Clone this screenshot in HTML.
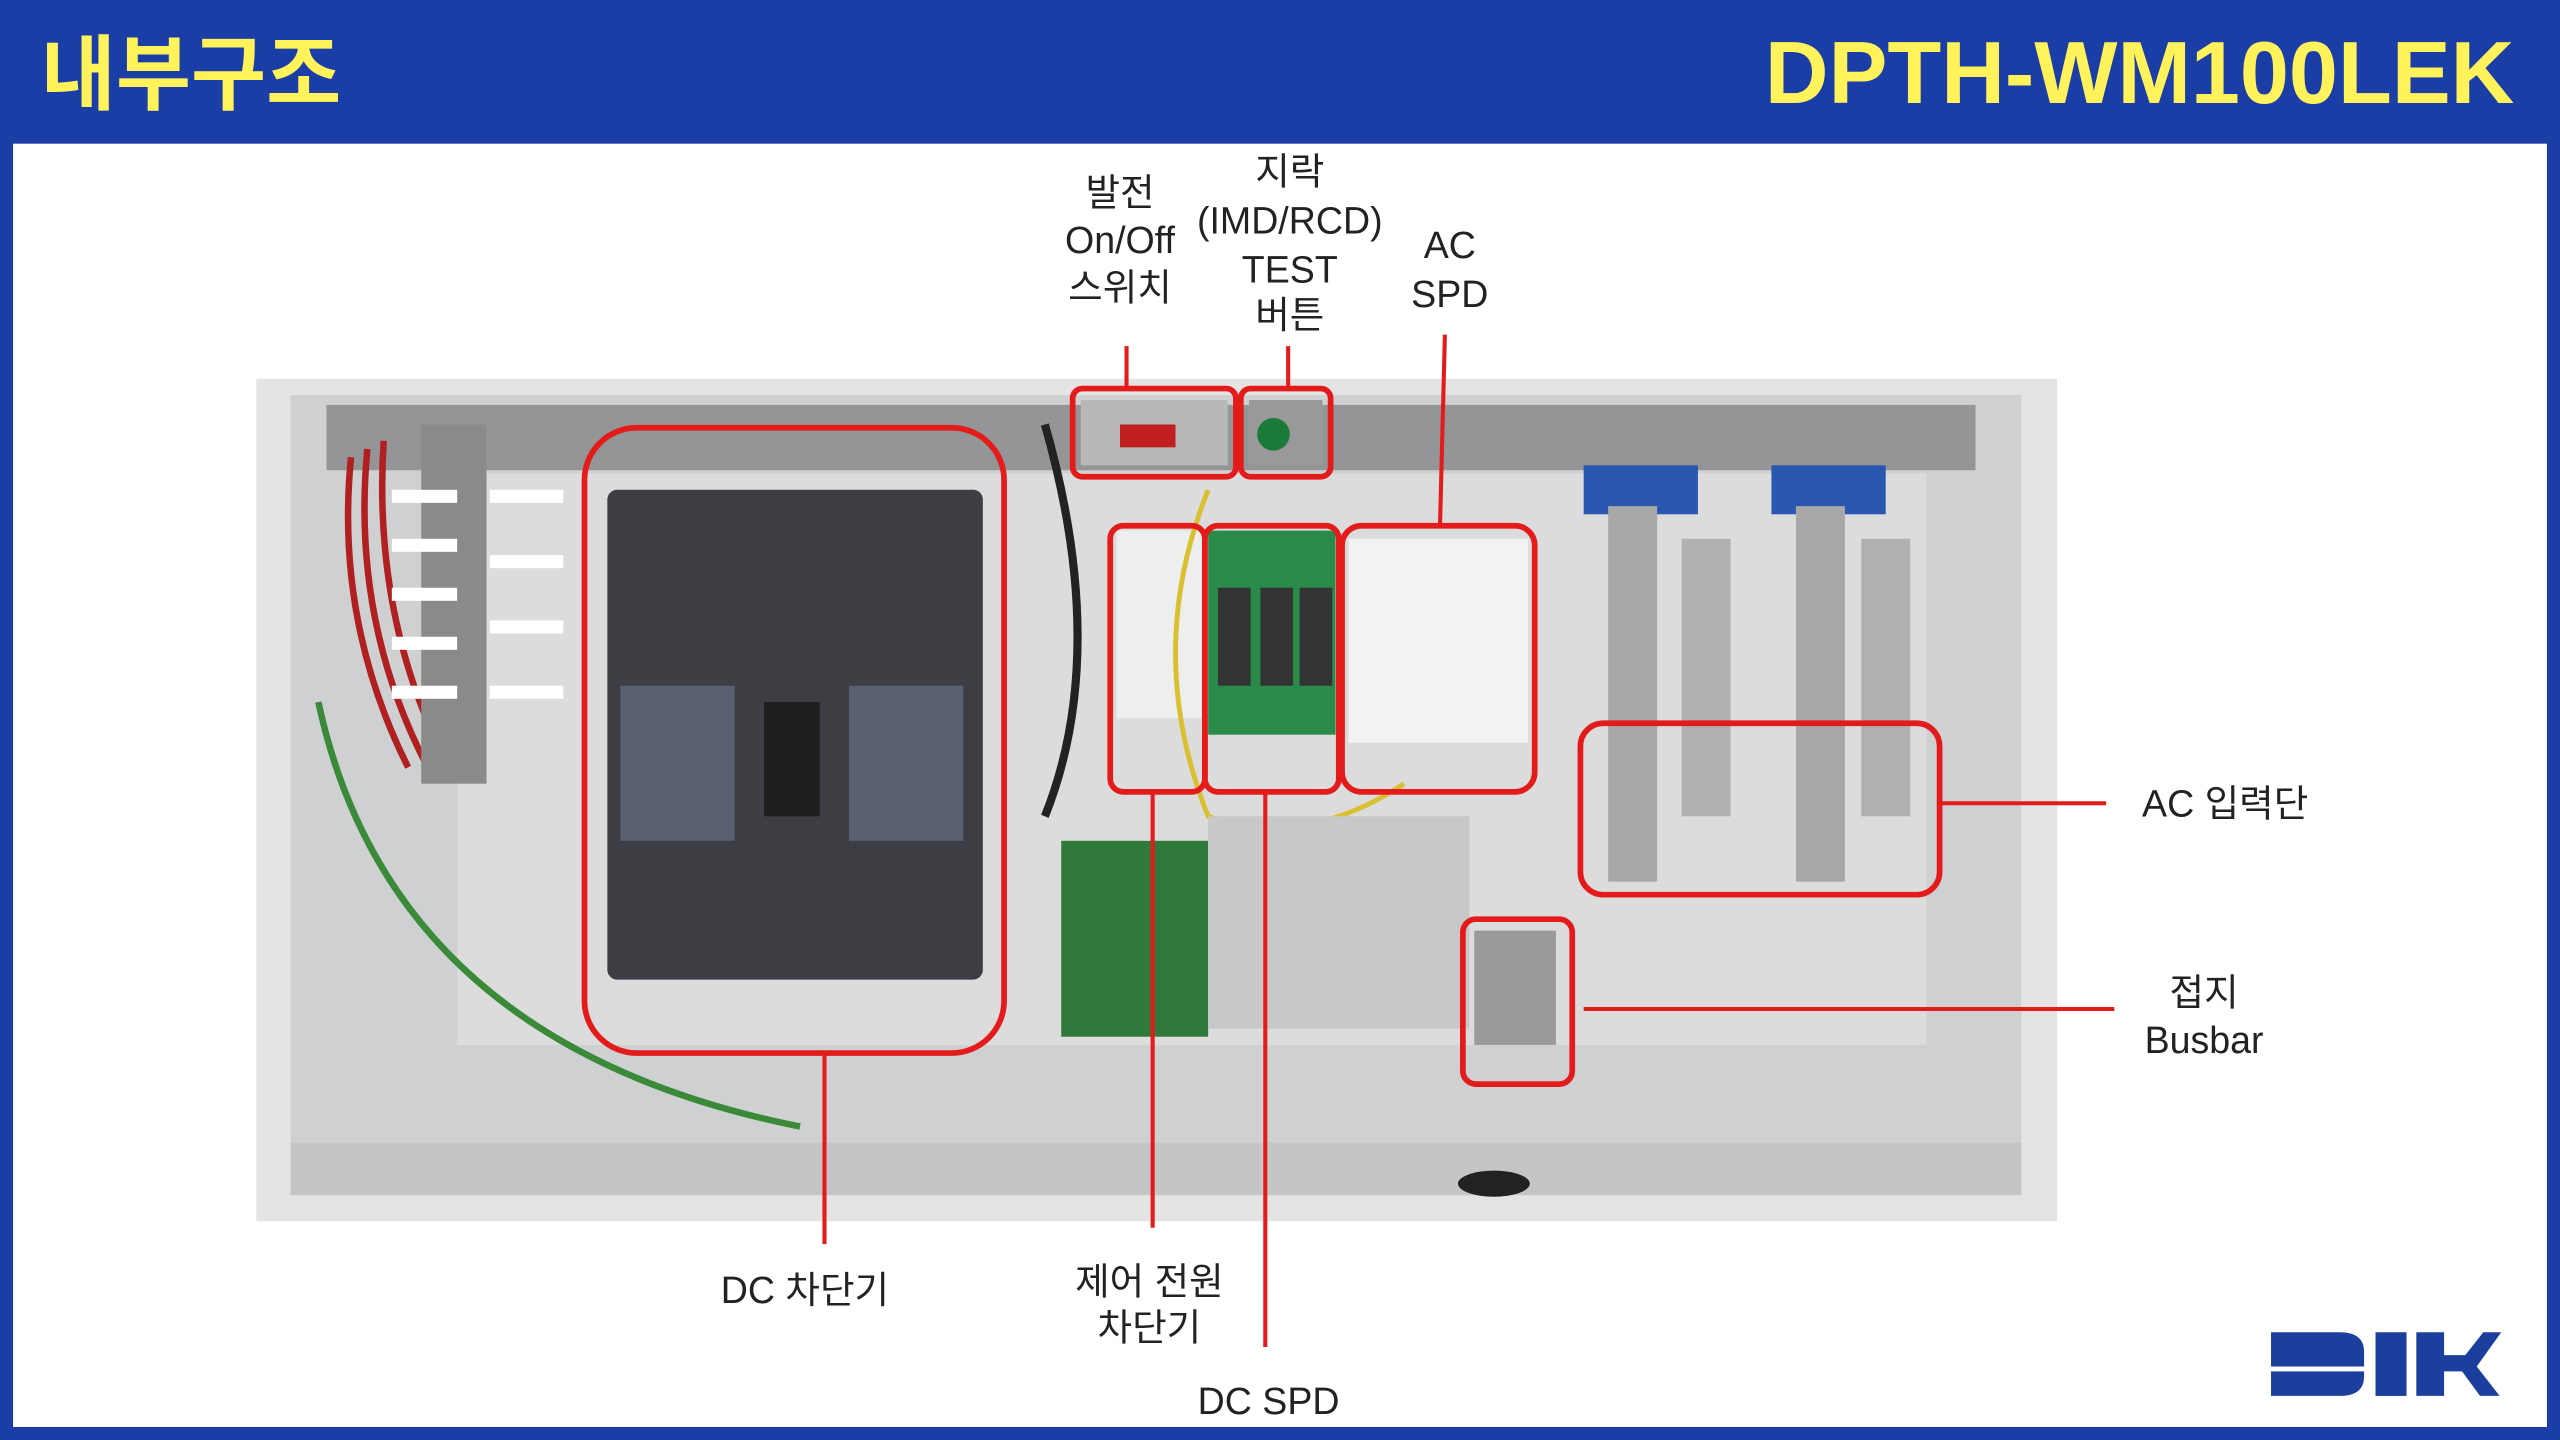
<!DOCTYPE html>
<html><head><meta charset="utf-8"><style>
html,body{margin:0;padding:0;width:2560px;height:1440px;overflow:hidden;background:#1a3ea6}
svg{display:block}
text{font-family:"Liberation Sans","Noto Sans CJK KR",sans-serif;fill:#222;font-size:23px;text-anchor:middle}
</style></head><body>
<svg width="2560" height="1440" viewBox="0 0 1568 882" preserveAspectRatio="none">
<rect x="0" y="0" width="1568" height="882" fill="#1a3ea6"/>
<rect x="8" y="88" width="1552" height="786" fill="#ffffff"/>
<text x="25" y="63" style="font-size:50px;font-weight:bold;fill:#fff25a;text-anchor:start;font-family:'Noto Sans CJK KR','Liberation Sans',sans-serif">내부구조</text>
<text x="1540" y="63" style="font-size:54px;font-weight:bold;fill:#fff25a;text-anchor:end;font-family:'Liberation Sans',sans-serif">DPTH-WM100LEK</text>

<!-- photo -->
<rect x="157" y="232" width="1103" height="516" fill="#e4e4e4"/>
<rect x="178" y="242" width="1060" height="490" fill="#cfd0d2"/>
<rect x="280" y="290" width="900" height="350" fill="#dcdcdc"/>
<rect x="178" y="700" width="1060" height="32" fill="#c4c5c7"/>
<rect x="200" y="248" width="1010" height="40" fill="#5a5a5a" opacity="0.5"/>
<!-- wires left -->
<g stroke="#b02020" stroke-width="4" fill="none">
<path d="M215 280 Q205 380 250 470"/><path d="M225 275 Q215 380 262 470"/><path d="M235 270 Q228 380 275 470"/>
</g>
<rect x="258" y="260" width="40" height="220" fill="#8a8a8a"/>
<g fill="#fff"><rect x="240" y="300" width="40" height="8"/><rect x="240" y="330" width="40" height="8"/><rect x="240" y="360" width="40" height="8"/><rect x="240" y="390" width="40" height="8"/><rect x="240" y="420" width="40" height="8"/><rect x="300" y="300" width="45" height="8"/><rect x="300" y="340" width="45" height="8"/><rect x="300" y="380" width="45" height="8"/><rect x="300" y="420" width="45" height="8"/></g>
<path d="M195 430 Q240 640 490 690" stroke="#3a8a3a" stroke-width="4" fill="none"/>
<!-- breaker -->
<rect x="372" y="300" width="230" height="300" rx="6" fill="#3c3e44"/>
<rect x="380" y="420" width="70" height="95" fill="#5a6070"/>
<rect x="520" y="420" width="70" height="95" fill="#5a6070"/>
<rect x="468" y="430" width="34" height="70" fill="#1e1e1e"/>
<!-- top switches -->
<rect x="662" y="245" width="90" height="40" fill="#b8b8b8"/>
<rect x="686" y="260" width="34" height="14" fill="#c02020"/>
<rect x="765" y="245" width="45" height="40" fill="#999"/>
<circle cx="780" cy="266" r="10" fill="#1a7a3a"/>
<!-- control breaker / SPDs -->
<rect x="684" y="325" width="52" height="115" fill="#eee"/>
<rect x="740" y="325" width="78" height="125" fill="#2a8a4a"/>
<rect x="746" y="360" width="20" height="60" fill="#333"/><rect x="772" y="360" width="20" height="60" fill="#333"/><rect x="796" y="360" width="20" height="60" fill="#333"/>
<rect x="826" y="330" width="110" height="125" fill="#f2f2f2"/>
<path d="M740 300 Q700 400 740 500 Q800 520 860 480" stroke="#d8c030" stroke-width="3" fill="none"/>
<path d="M640 260 Q680 400 640 500" stroke="#222" stroke-width="5" fill="none"/>
<!-- pcb -->
<rect x="650" y="515" width="90" height="120" fill="#2f7a3a"/>
<rect x="740" y="500" width="160" height="130" fill="#c8c8c8"/>
<!-- right bars -->
<rect x="970" y="285" width="70" height="30" fill="#2a58b0"/>
<rect x="1085" y="285" width="70" height="30" fill="#2a58b0"/>
<rect x="985" y="310" width="30" height="230" fill="#a8a8a8"/><rect x="1030" y="330" width="30" height="170" fill="#b0b0b0"/>
<rect x="1100" y="310" width="30" height="230" fill="#a8a8a8"/><rect x="1140" y="330" width="30" height="170" fill="#b0b0b0"/>
<rect x="903" y="570" width="50" height="70" fill="#9a9a9a"/>
<ellipse cx="915" cy="725" rx="22" ry="8" fill="#222"/>

<!-- red boxes -->
<g stroke="#e31b1b" stroke-width="3.5" fill="none">
<rect x="358" y="262" width="257" height="383" rx="32"/>
<rect x="657" y="238" width="100" height="54" rx="6"/>
<rect x="760" y="238" width="55" height="54" rx="6"/>
<rect x="680" y="322" width="58" height="163" rx="8"/>
<rect x="738" y="322" width="82" height="163" rx="8"/>
<rect x="822" y="322" width="118" height="163" rx="12"/>
<rect x="968" y="443" width="220" height="105" rx="14"/>
<rect x="896" y="563" width="67" height="101" rx="8"/>
</g>
<g stroke="#e31b1b" stroke-width="2.5">
<line x1="690" y1="212" x2="690" y2="238"/>
<line x1="789" y1="212" x2="789" y2="238"/>
<line x1="885" y1="205" x2="882" y2="322"/>
<line x1="505" y1="645" x2="505" y2="762"/>
<line x1="706" y1="485" x2="706" y2="752"/>
<line x1="775" y1="485" x2="775" y2="825"/>
<line x1="1188" y1="492" x2="1290" y2="492"/>
<line x1="970" y1="618" x2="1295" y2="618"/>
</g>

<!-- labels -->
<text x="686" y="126">발전</text><text x="686" y="155">On/Off</text><text x="686" y="184">스위치</text>
<text x="790" y="113">지락</text><text x="790" y="143">(IMD/RCD)</text><text x="790" y="173">TEST</text><text x="790" y="201">버튼</text>
<text x="888" y="158">AC</text><text x="888" y="188">SPD</text>
<text x="1312" y="500" style="text-anchor:start">AC 입력단</text>
<text x="1350" y="616">접지</text><text x="1350" y="645">Busbar</text>
<text x="493" y="798">DC 차단기</text>
<text x="704" y="793">제어 전원</text><text x="704" y="821">차단기</text>
<text x="777" y="866">DC SPD</text>

<!-- logo -->
<g fill="#1c3f9e">
<path d="M1391 816 H1433 Q1448 816 1448 828 V837 H1391 Z"/>
<path d="M1391 840 H1448 V843 Q1448 855 1433 855 H1391 Z"/>
<rect x="1455" y="816" width="19" height="39"/>
<path d="M1480 816 H1497 V830 L1510 830 L1521 816 H1532 L1517 837 L1531 855 H1519 L1508 840 H1497 V855 H1480 Z"/>
</g>
</svg>
</body></html>
